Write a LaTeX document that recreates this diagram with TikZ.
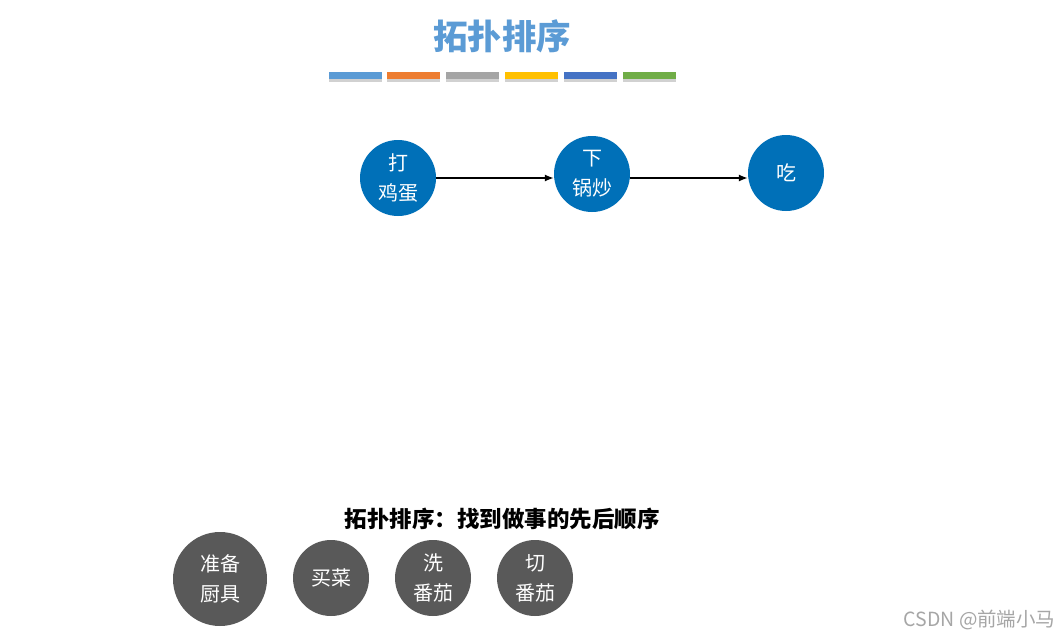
\documentclass[tikz,border=0pt]{standalone}
\usepackage{fontspec}
\newfontfamily\cjk{Noto Sans CJK SC}
\usetikzlibrary{positioning,arrows.meta}
\definecolor{titleblue}{RGB}{91,155,213}
\definecolor{nodeblue}{RGB}{0,112,184}
\definecolor{nodegray}{RGB}{89,89,89}
\definecolor{barorange}{RGB}{237,125,49}
\definecolor{bargray}{RGB}{165,165,165}
\definecolor{baryellow}{RGB}{255,192,0}
\definecolor{bardblue}{RGB}{68,114,196}
\definecolor{bargreen}{RGB}{112,173,71}
\tikzset{
  bluenode/.style={circle,fill=nodeblue,minimum size=76pt,inner sep=0pt,text=white,
    font=\cjk\fontsize{20}{30}\selectfont,align=center},
  graynode/.style={circle,fill=nodegray,minimum size=76pt,inner sep=0pt,text=white,
    font=\cjk\fontsize{20}{30}\selectfont,align=center},
  bar/.style={minimum width=53pt,minimum height=7pt,inner sep=0pt}
}
\begin{document}
\begin{tikzpicture}[x=1pt,y=-1pt]
  \useasboundingbox[fill=white] (0,0) rectangle (1063,637);
  % 标题
  \node[text=titleblue,font=\cjk\bfseries\fontsize{34.5}{34.5}\selectfont] (title) at (502,36) {拓扑排序};
  % 彩色条
  \foreach \x/\c [count=\i] in {355.5/titleblue,413/barorange,472/bargray,531/baryellow,590/bardblue,649.5/bargreen} {
    \fill[black!18] (\x-26.5,77) rectangle (\x+26.5,82);
    \node[bar,fill=\c] (bar\i) at (\x,75.5) {};
  }
  % 流程
  \node[bluenode] (egg) at (398,178) {打\\鸡蛋};
  \node[bluenode] (fry) at (592,174) {下\\锅炒};
  \node[bluenode] (eat) at (786,173) {吃};
  \draw[-{Latex[length=9pt,width=7pt]},line width=1.4pt] (egg.east) -- (egg.east -| fry.west);
  \draw[-{Latex[length=9pt,width=7pt]},line width=1.4pt] (egg.east -| fry.east) -- (egg.east -| eat.west);
  % 说明
  \node[font=\cjk\bfseries\fontsize{22.5}{22.5}\selectfont] (caption) at (502,519) {拓扑排序：找到做事的先后顺序};
  % 灰色圆
  \node[graynode,minimum size=94pt] (tools) at (220,579) {准备\\厨具};
  \node[graynode] (buy) at (331,578) {买菜};
  \node[graynode] (wash) at (433,578) {洗\\番茄};
  \node[graynode] (cut) at (535,578) {切\\番茄};
  % 水印
  \node[text=black!35,font=\cjk\fontsize{19.5}{19.5}\selectfont,anchor=east] (mark) at (1059,620) {CSDN @前端小马};
\end{tikzpicture}
\end{document}
